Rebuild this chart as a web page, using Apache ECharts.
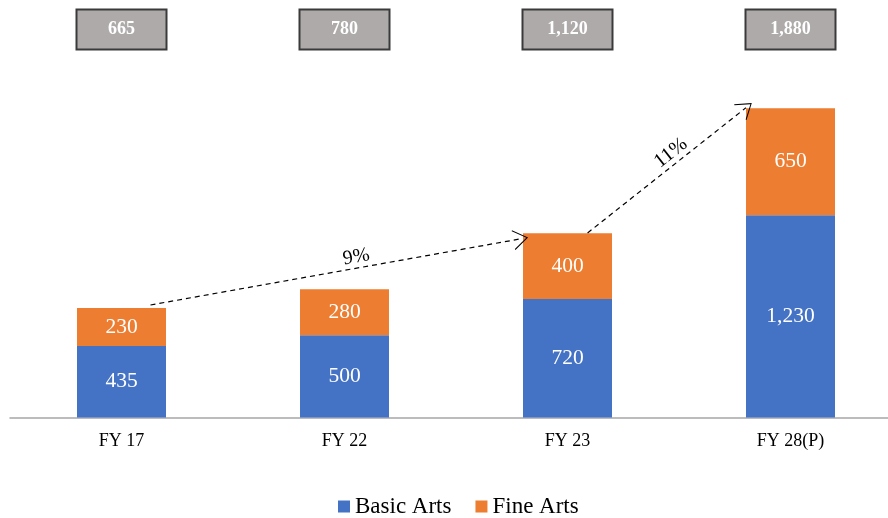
<!DOCTYPE html>
<html>
<head>
<meta charset="utf-8">
<script src="https://cdn.jsdelivr.net/npm/echarts@6/dist/echarts.min.js"></script>
<style>
  html, body { margin: 0; padding: 0; background: #fff; overflow: hidden; }
  #chart { width: 902px; height: 518px; }
</style>
</head>
<body>
<div id="chart"></div>
<script>
const categories = ['FY 17', 'FY 22', 'FY 23', 'FY 28(P)']
const basicArts = [435, 500, 720, 1230]
const fineArts = [230, 280, 400, 650]
const totalLabels = ['665', '780', '1,120', '1,880']

// growth arrows: [x (category index units), value] start -> end
const growthArrows = [
  { label: '9%', from: [0.13, 684], to: [1.79, 1086], shift: 46 },
  { label: '11%', from: [2.09, 1122], to: [2.8, 1883], shift: 28 }
]

const serif = '"Liberation Serif", "DejaVu Serif", serif'
const fmt = v => v.toLocaleString('en-US')

const chart = echarts.init(document.getElementById('chart'))

const chevron = 'path://M0,10 L5,0 L10,10 L9.5,10.3 L5,1.2 L0.5,10.3 Z'

chart.setOption({
  animation: false,
  grid: { left: 10, right: 0, top: 88.5, bottom: 100.5 },
  legend: {
    top: 490,
    left: 333,
    itemWidth: 12,
    itemHeight: 12,
    itemGap: 24,
    icon: 'rect',
    textStyle: { fontFamily: serif, fontSize: 23, color: '#000' },
    data: ['Basic Arts', 'Fine Arts']
  },
  xAxis: [
    {
      type: 'category',
      data: categories,
      axisTick: { show: false },
      axisLine: { lineStyle: { color: '#a6a6a6', width: 1.5 } },
      axisLabel: { margin: 15, fontFamily: serif, fontSize: 18, color: '#000' }
    },
    {
      type: 'category',
      position: 'top',
      data: totalLabels,
      axisTick: { show: false },
      axisLine: { show: false },
      axisLabel: {
        margin: 40,
        fontFamily: serif,
        fontSize: 18,
        fontWeight: 'bold',
        color: '#fff',
        backgroundColor: '#aeaaaa',
        borderColor: '#3a3a3a',
        borderWidth: 2,
        width: 88,
        height: 38,
        lineHeight: 38,
        align: 'center'
      }
    },
    {
      type: 'value',
      min: -0.5,
      max: 3.5,
      show: false
    }
  ],
  yAxis: { type: 'value', min: 0, max: 2000, show: false },
  series: [
    {
      name: 'Basic Arts',
      type: 'bar',
      stack: 'total',
      barWidth: 89,
      data: basicArts,
      itemStyle: { color: '#4472c4' },
      label: {
        show: true,
        formatter: p => fmt(p.value),
        color: '#fff',
        fontFamily: serif,
        fontSize: 21.5
      }
    },
    {
      name: 'Fine Arts',
      type: 'bar',
      stack: 'total',
      barWidth: 89,
      data: fineArts,
      itemStyle: { color: '#ed7d31' },
      label: {
        show: true,
        formatter: p => fmt(p.value),
        color: '#fff',
        fontFamily: serif,
        fontSize: 21.5
      }
    },
    {
      type: 'line',
      xAxisIndex: 2,
      data: [],
      silent: true,
      markLine: {
        silent: true,
        symbol: ['none', chevron],
        symbolSize: [20, 15],
        lineStyle: { color: '#000', type: [5, 4], width: 1.2 },
        label: {
          show: true,
          position: 'middle',
          fontFamily: serif,
          fontSize: 20,
          color: '#000',
          distance: 1
        },
        data: growthArrows.map(a => [
          {
            name: a.label,
            coord: a.from,
            label: { formatter: a.label, padding: [0, 0, 0, a.shift] }
          },
          { coord: a.to }
        ])
      }
    }
  ]
})
</script>
</body>
</html>
